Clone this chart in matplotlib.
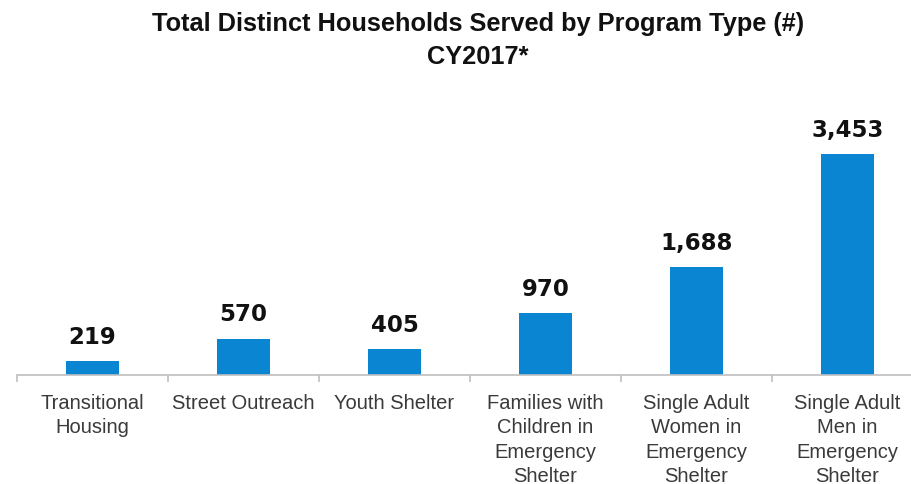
import matplotlib
matplotlib.use("Agg")
import matplotlib.pyplot as plt

categories = [
    "Transitional\nHousing",
    "Street Outreach",
    "Youth Shelter",
    "Families with\nChildren in\nEmergency\nShelter",
    "Single Adult\nWomen in\nEmergency\nShelter",
    "Single Adult\nMen in\nEmergency\nShelter",
]
households = [219, 570, 405, 970, 1688, 3453]

title = "Total Distinct Households Served by Program Type (#)\nCY2017*"

W, H = 911, 485
fig = plt.figure(figsize=(W / 100, H / 100), dpi=100)

# axes placed in pixel terms: baseline at y=376, left edge at x=17
left, bottom, top = 17, H - 376, H - 100
ax = fig.add_axes([left / W, bottom / H, (W - left) / W, (top - bottom) / H])

x = list(range(len(categories)))
ax.bar(x, households, width=0.355, color="#0A85D1")

for xi, v in zip(x, households):
    ax.annotate(f"{v:,}", (xi, v), xytext=(0, 9.5), textcoords="offset points",
                ha="center", va="bottom", fontsize=16.5, fontweight="bold",
                color="#111111", family="DejaVu Sans")

for s in ["top", "right", "left"]:
    ax.spines[s].set_visible(False)
ax.spines["bottom"].set_color("#BFBFBF")
ax.spines["bottom"].set_linewidth(1.2)
ax.set_yticks([])

ax.set_xticks([i - 0.5 for i in range(len(categories) + 1)], minor=False)
ax.set_xticklabels([])
ax.tick_params(axis="x", length=5, color="#BFBFBF", width=1.2, direction="out")
ax.set_xticks(x, minor=True)
ax.set_xticklabels(categories, minor=True, fontsize=14.5, color="#3A3A3A",
                   family="Liberation Sans", linespacing=1.36)
ax.tick_params(axis="x", which="minor", length=0, pad=13)

# limits set last so the tick positions do not widen them
ax.set_xlim(-0.5, -0.5 + (W - left) / 151.0)
ax.set_ylim(0, 3453 * (top - bottom) / 221)

fig.text(478 / W, 1 - 12 / H, title, ha="center", va="top", fontsize=18.3,
         fontweight="bold", color="#111111", family="Liberation Sans",
         linespacing=1.5)

fig.savefig("out.png", dpi=100)
